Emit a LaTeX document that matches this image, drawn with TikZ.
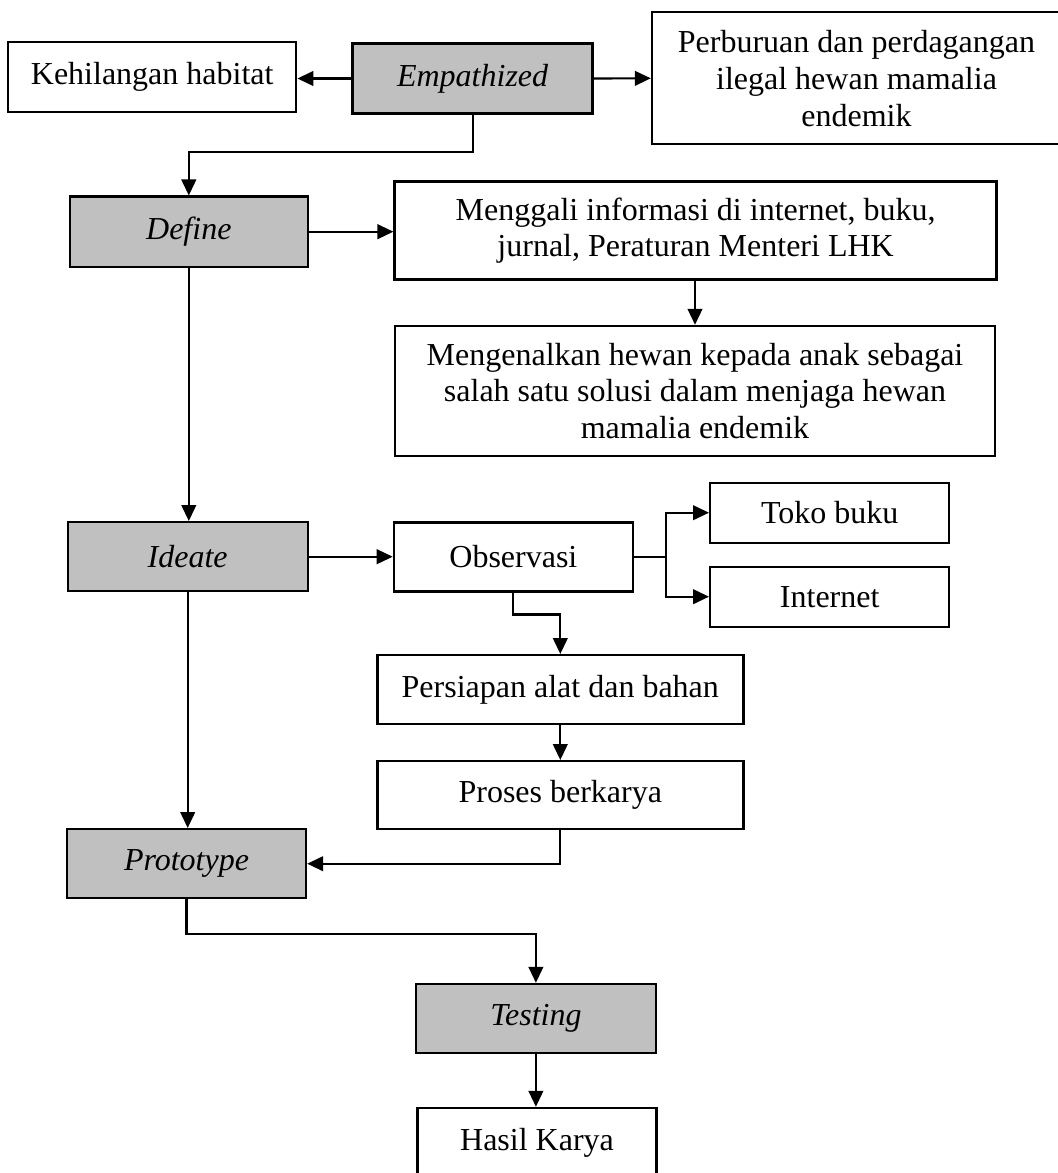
\documentclass[tikz,border=0pt]{standalone}
\usepackage{fontspec}
\setmainfont{Liberation Serif}
\usetikzlibrary{arrows.meta}
\definecolor{boxgray}{RGB}{192,192,192}
\tikzset{
  base/.style={draw=black, line width=1.8pt, align=center, inner sep=0pt,
    font=\fontsize{24}{27.6}\selectfont},
  wbox/.style={base, fill=white},
  gbox/.style={base, fill=boxgray, font=\fontsize{24}{27.6}\selectfont\itshape},
  arr/.style={draw=black, line width=1.6pt, -{Triangle[length=12pt,width=11pt]}},
}
\begin{document}
\begin{tikzpicture}[x=0.75pt,y=-0.75pt]
\useasboundingbox (0,0) rectangle (1057,1173);
% nodes (positions in px, y downward)
\node[gbox, minimum width=180pt, minimum height=52.5pt] (emp) at (472.6,78.5) {Empathized};
\node[wbox, minimum width=216pt, minimum height=52.5pt] (keh) at (152.2,77.3) {Kehilangan habitat};
\node[wbox, minimum width=306.75pt, minimum height=99pt] (perb) at (856.5,78.3) {Perburuan dan perdagangan\\ilegal hewan mamalia\\endemik};
\node[gbox, minimum width=178.5pt, minimum height=52.5pt] (def) at (188.8,231.7) {Define};
\node[wbox, minimum width=451.5pt, minimum height=73.5pt] (meng) at (695.6,230.6) {Menggali informasi di internet, buku,\\jurnal, Peraturan Menteri LHK};
\node[wbox, minimum width=450pt, minimum height=97.5pt] (mengen) at (695,391) {Mengenalkan hewan kepada anak sebagai\\salah satu solusi dalam menjaga hewan\\mamalia endemik};
\node[gbox, minimum width=180pt, minimum height=51.75pt] (ide) at (187.7,556.7) {Ideate};
\node[wbox, minimum width=179.25pt, minimum height=51.75pt] (obs) at (513.4,556.8) {Observasi};
\node[wbox, minimum width=179.25pt, minimum height=45pt] (toko) at (829.7,512.7) {Toko buku};
\node[wbox, minimum width=179.25pt, minimum height=45pt] (inet) at (829.7,596.7) {Internet};
\node[wbox, minimum width=274.5pt, minimum height=51.75pt] (pers) at (560.3,689.7) {Persiapan alat dan bahan};
\node[wbox, minimum width=274.5pt, minimum height=51pt] (pros) at (560.3,795.2) {Proses berkarya};
\node[gbox, minimum width=179.25pt, minimum height=51.75pt] (proto) at (186.5,863.7) {Prototype};
\node[gbox, minimum width=180pt, minimum height=51.75pt] (test) at (535.9,1018.5) {Testing};
\node[wbox, minimum width=179.25pt, minimum height=51.75pt] (hasil) at (537,1142.5) {Hasil Karya};
% connectors
\draw[arr] (emp.west) -- (emp.west -| keh.east);
\draw[arr] (emp.east) -- (perb.west);
\draw[arr] (emp.south) -- ++(0,37.2) -| (def.north);
\draw[arr] (def.east) -- (def.east -| meng.west);
\draw[arr] (meng.south -| mengen.north) -- (mengen.north);
\draw[arr] (def.south) -- (def.south |- ide.north);
\draw[arr] (ide.east) -- (ide.east -| obs.west);
\draw[arr] (obs.east) -- ++(32.3,0) |- (toko.west);
\draw[arr] (obs.east) -- ++(32.3,0) |- (inet.west);
\draw[arr] (obs.south) -- ++(0,22) -| (pers.north);
\draw[arr] (pers.south) -- (pros.north);
\draw[arr] (pros.south) |- (proto.east);
\draw[arr] (ide.south) -- (ide.south |- proto.north);
\draw[arr] (proto.south) -- ++(0,35) -| (test.north);
\draw[arr] (test.south) -- (test.south |- hasil.north);
\end{tikzpicture}
\end{document}
